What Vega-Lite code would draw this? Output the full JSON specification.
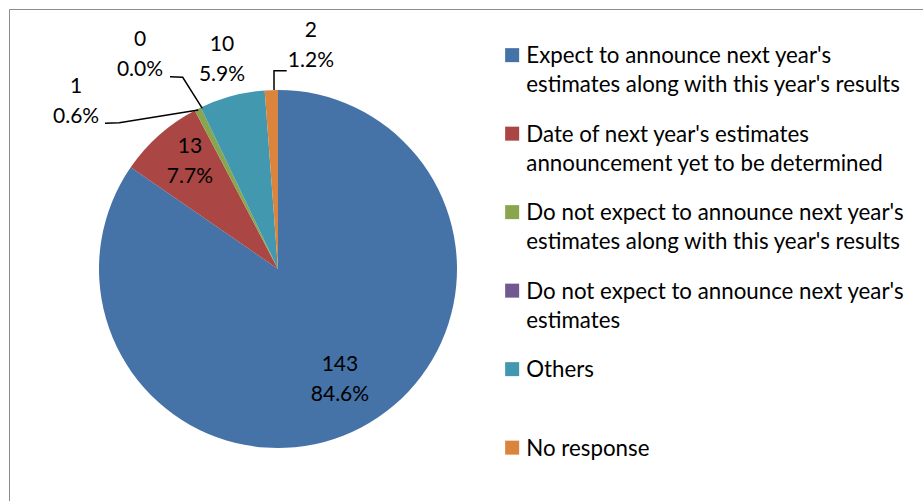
{
  "$schema": "https://vega.github.io/schema/vega-lite/v6.json",
  "width": 920,
  "height": 500,
  "autosize": {"type": "none"},
  "padding": {"left": 9, "top": 9, "right": 0, "bottom": 0},
  "background": "white",
  "config": {
    "view": {"stroke": "#8c8c8c", "strokeWidth": 1},
    "font": "Lato",
    "style": {"guide-label": {"lineHeight": 29}}
  },
  "datasets": {
    "slices": [
      {"cat": "Expect to announce next year's\nestimates along with this year's results", "count": 143, "idx": 1},
      {"cat": "Date of next year's estimates\nannouncement yet to be determined", "count": 13, "idx": 2},
      {"cat": "Do not expect to announce next year's\nestimates along with this year's results", "count": 1, "idx": 3},
      {"cat": "Do not expect to announce next year's\nestimates", "count": 0, "idx": 4},
      {"cat": "Others", "count": 10, "idx": 5},
      {"cat": "No response", "count": 2, "idx": 6}
    ],
    "labels": [
      {"label": ["143", "84.6%"], "lx": 0.346, "ly": -0.539},
      {"label": ["13", "7.7%"], "lx": -0.492, "ly": 0.684},
      {"label": ["1", "0.6%"], "lx": -1.128, "ly": 1.014},
      {"label": ["0", "0.0%"], "lx": -0.771, "ly": 1.282},
      {"label": ["10", "5.9%"], "lx": -0.313, "ly": 1.249},
      {"label": ["2", "1.2%"], "lx": 0.184, "ly": 1.327}
    ],
    "leaders": [
      {"line": "a", "i": 1, "x": -0.9665, "y": 0.8140},
      {"line": "a", "i": 2, "x": -0.8866, "y": 0.8173},
      {"line": "a", "i": 3, "x": -0.4453, "y": 0.8883},
      {"line": "b", "i": 1, "x": -0.6034, "y": 1.0743},
      {"line": "b", "i": 2, "x": -0.5324, "y": 1.0709},
      {"line": "b", "i": 3, "x": -0.4229, "y": 0.8978},
      {"line": "c", "i": 1, "x": 0.0486, "y": 1.1078},
      {"line": "c", "i": 2, "x": -0.0223, "y": 1.1078},
      {"line": "c", "i": 3, "x": -0.0223, "y": 1.0}
    ]
  },
  "layer": [
    {
      "data": {"name": "slices"},
      "mark": {"type": "arc", "radius": 179, "stroke": null},
      "encoding": {
        "x": {"datum": 0, "type": "quantitative", "scale": {"domain": [-1.50279, 3.63687], "nice": false, "zero": false}, "axis": null},
        "y": {"datum": 0, "type": "quantitative", "scale": {"domain": [-1.34078, 1.45251], "nice": false, "zero": false}, "axis": null},
        "theta": {"field": "count", "type": "quantitative", "stack": true},
        "order": {"field": "idx", "type": "quantitative"},
        "color": {
          "field": "cat",
          "type": "nominal",
          "sort": null,
          "scale": {
            "domain": [
              "Expect to announce next year's\nestimates along with this year's results",
              "Date of next year's estimates\nannouncement yet to be determined",
              "Do not expect to announce next year's\nestimates along with this year's results",
              "Do not expect to announce next year's\nestimates",
              "Others",
              "No response"
            ],
            "range": ["#4572A7", "#AA4643", "#89A54E", "#71588F", "#4198AF", "#DB843D"]
          },
          "legend": {
            "title": null,
            "orient": "none",
            "legendX": 492,
            "legendY": 43,
            "padding": 0,
            "gridAlign": "all",
            "rowPadding": 26.5,
            "symbolType": "M-1,-2.143H1V-0.143H-1Z",
            "symbolSize": 196,
            "symbolStrokeWidth": 0,
            "labelFont": "Lato",
            "labelFontSize": 22.3,
            "labelColor": "#000000",
            "labelBaseline": "alphabetic",
            "labelOffset": 3,
            "labelLimit": 0,
            "labelExpr": "split(datum.label, '\\n')"
          }
        }
      }
    },
    {
      "data": {"name": "leaders"},
      "mark": {"type": "line", "color": "#000000", "strokeWidth": 1.5},
      "encoding": {
        "x": {"field": "x", "type": "quantitative"},
        "y": {"field": "y", "type": "quantitative"},
        "detail": {"field": "line", "type": "nominal"},
        "order": {"field": "i", "type": "quantitative"}
      }
    },
    {
      "data": {"name": "labels"},
      "mark": {"type": "text", "font": "Lato", "fontSize": 21, "lineHeight": 30, "baseline": "middle", "align": "center", "color": "#000000"},
      "encoding": {
        "x": {"field": "lx", "type": "quantitative"},
        "y": {"field": "ly", "type": "quantitative"},
        "text": {"field": "label", "type": "nominal"}
      }
    }
  ]
}
